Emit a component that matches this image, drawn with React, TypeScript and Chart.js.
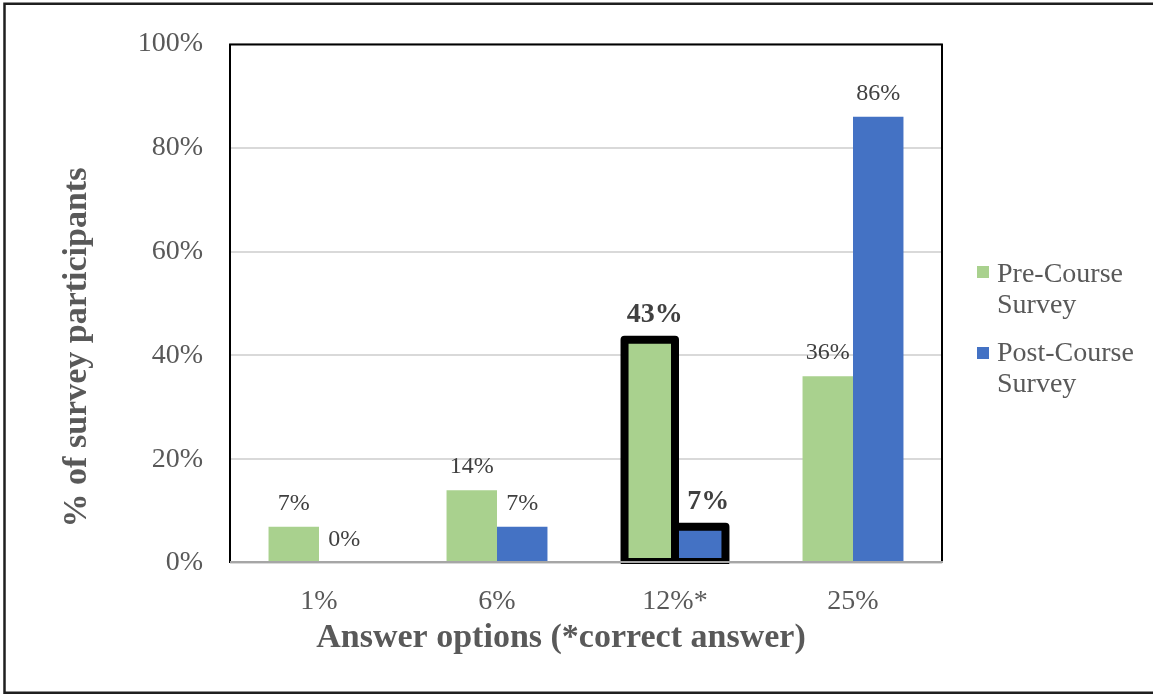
import { useEffect, useRef } from "react";
import { Chart, registerables } from "chart.js";

Chart.register(...registerables);

// Survey results: share of participants choosing each answer option
const categories = ["1%", "6%", "12%*", "25%"];
const preCourse = [7, 14, 43, 36];
const postCourse = [0, 7, 7, 86];
const seriesNames = [
  ["Pre-Course", "Survey"],
  ["Post-Course", "Survey"],
];
const seriesColors = ["#A9D18E", "#4472C4"];
const correctIndex = 2;
const yTicks = [0, 20, 40, 60, 80, 100];
const xTitle = "Answer options (*correct answer)";
const yTitle = "% of survey participants";

const serif = "'Liberation Serif', 'Times New Roman', serif";
const W = 1153;
const H = 694;

const decor = {
  id: "decor",
  afterDatasetsDraw(chart: any) {
    const { ctx, chartArea: a } = chart;
    ctx.save();

    // thick outline around the correct-answer bars
    ctx.save();
    ctx.beginPath();
    ctx.rect(a.left - 20, a.top - 20, a.right - a.left + 40, a.bottom - a.top + 21);
    ctx.clip();
    ctx.lineWidth = 8;
    ctx.lineJoin = "round";
    ctx.strokeStyle = "#000";
    chart.data.datasets.forEach((_ds: any, di: number) => {
      const el = chart.getDatasetMeta(di).data[correctIndex];
      const { x, y, base, width } = el.getProps(["x", "y", "base", "width"], true);
      ctx.strokeRect(x - width / 2, y, width, base - y);
    });
    ctx.restore();

    // plot frame
    ctx.strokeStyle = "#000";
    ctx.lineWidth = 2;
    ctx.beginPath();
    ctx.moveTo(a.left, a.bottom);
    ctx.lineTo(a.left, a.top + 0.5);
    ctx.lineTo(a.right, a.top + 0.5);
    ctx.lineTo(a.right, a.bottom);
    ctx.stroke();

    // category axis line
    ctx.strokeStyle = "#a6a6a6";
    ctx.beginPath();
    ctx.moveTo(a.left, a.bottom - 1);
    ctx.lineTo(a.right + 1, a.bottom - 1);
    ctx.stroke();

    // value labels (bold ones sit a little right, clear of the outline)
    ctx.fillStyle = "#404040";
    ctx.textAlign = "center";
    ctx.textBaseline = "alphabetic";
    chart.data.datasets.forEach((ds: any, di: number) => {
      chart.getDatasetMeta(di).data.forEach((el: any, i: number) => {
        const v = ds.data[i];
        const bold = i === correctIndex;
        ctx.font = bold ? `bold 28px ${serif}` : `24px ${serif}`;
        const dx = bold ? (di === 0 ? 5 : 8) : 0;
        ctx.fillText(`${v}%`, el.x + dx, el.y - (bold ? 18 : 17));
      });
    });

    // axis titles
    ctx.fillStyle = "#595959";
    ctx.font = `bold 34px ${serif}`;
    ctx.fillText(xTitle, 561, 647);
    ctx.save();
    ctx.translate(85.5, 347.5);
    ctx.rotate(-Math.PI / 2);
    ctx.fillText(yTitle, 0, 0);
    ctx.restore();

    // legend
    ctx.textAlign = "left";
    ctx.font = `28px ${serif}`;
    const rows = [
      { box: 266, lines: [282, 313] },
      { box: 347, lines: [361, 392] },
    ];
    rows.forEach((r, i) => {
      ctx.fillStyle = seriesColors[i];
      ctx.fillRect(977, r.box, 12, 12);
      ctx.fillStyle = "#595959";
      seriesNames[i].forEach((t, k) => ctx.fillText(t, 997, r.lines[k]));
    });

    // outer frame
    ctx.strokeStyle = "#1f1f1f";
    ctx.lineWidth = 2.5;
    ctx.beginPath();
    ctx.moveTo(W + 5, 3.7);
    ctx.lineTo(4.5, 3.7);
    ctx.lineTo(4.5, 692.8);
    ctx.lineTo(W + 5, 692.8);
    ctx.stroke();

    ctx.restore();
  },
};

export default function App() {
  const ref = useRef<HTMLCanvasElement | null>(null);

  useEffect(() => {
    if (!ref.current) return;
    const chart = new Chart(ref.current, {
      type: "bar",
      data: {
        labels: categories,
        datasets: [
          {
            label: seriesNames[0].join(" "),
            data: preCourse,
            backgroundColor: seriesColors[0],
            barPercentage: 1,
            categoryPercentage: 0.567,
          },
          {
            label: seriesNames[1].join(" "),
            data: postCourse,
            backgroundColor: seriesColors[1],
            barPercentage: 1,
            categoryPercentage: 0.567,
          },
        ],
      },
      options: {
        responsive: false,
        animation: false,
        devicePixelRatio: 1,
        layout: { padding: { left: 0, top: 44, right: W - 942, bottom: 0 } },
        plugins: {
          legend: { display: false },
          tooltip: { enabled: false },
        },
        scales: {
          x: {
            grid: { display: false },
            border: { display: false },
            ticks: {
              color: "#595959",
              font: { family: serif, size: 28 },
              padding: 14,
              maxRotation: 0,
            },
            afterFit: (s: any) => {
              s.height = H - 563;
            },
          },
          y: {
            min: 0,
            max: 100,
            grid: { color: "#d9d9d9", lineWidth: 2, drawTicks: false },
            border: { display: false },
            ticks: {
              color: "#595959",
              font: { family: serif, size: 28 },
              padding: 27,
              callback: (v: any) => `${v}%`,
            },
            afterBuildTicks: (s: any) => {
              s.ticks = yTicks.map((v) => ({ value: v }));
            },
            afterFit: (s: any) => {
              s.width = 230;
            },
          },
        },
      },
      plugins: [decor],
    });
    return () => chart.destroy();
  }, []);

  return (
    <div style={{ position: "fixed", left: 0, top: 0, width: W, height: H, background: "#fff" }}>
      <canvas ref={ref} width={W} height={H} style={{ display: "block" }} />
    </div>
  );
}
